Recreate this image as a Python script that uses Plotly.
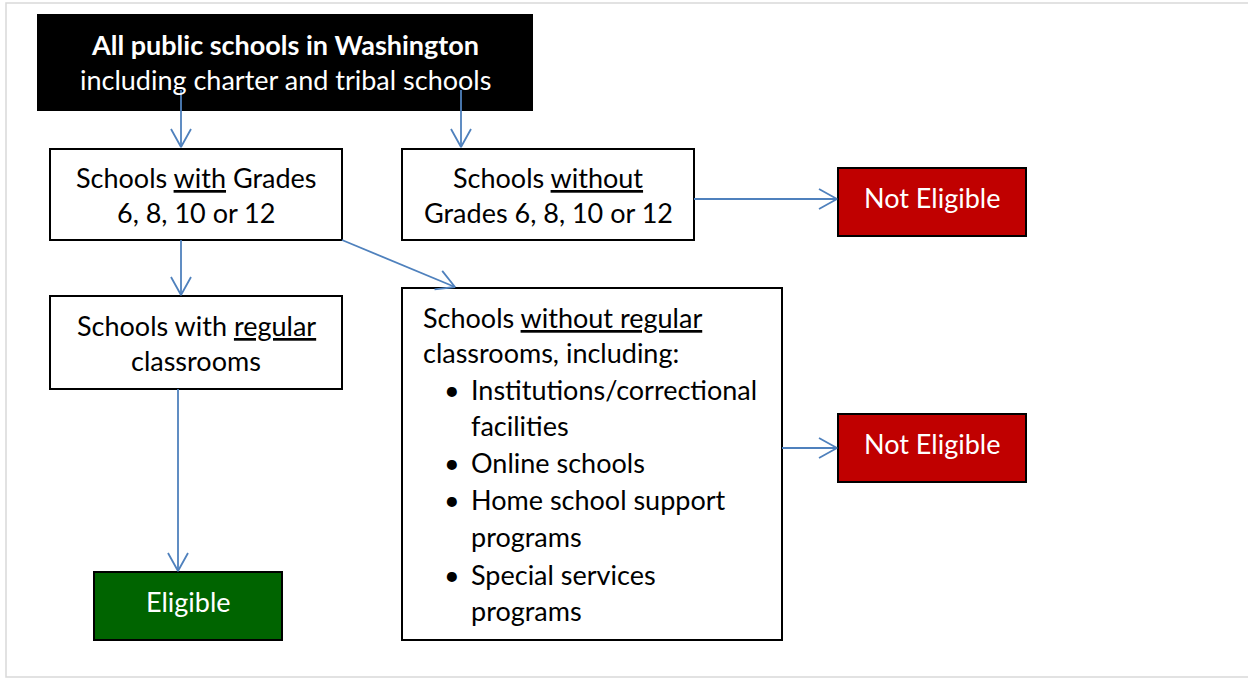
import math
import plotly.graph_objects as go

# ---------------- data ----------------
node_ids = ["root", "with", "without", "ne1", "regular", "noreg", "ne2", "elig"]
node_x0 = [38, 50, 402, 838, 50, 402, 838, 94]
node_x1 = [532, 342, 694, 1026, 342, 782, 1026, 282]
node_y0 = [15, 149, 149, 168, 296, 288, 414, 572]
node_y1 = [110, 240, 240, 236, 389, 640, 482, 640]
node_fill = ["#000000", "#FFFFFF", "#FFFFFF", "#C00000", "#FFFFFF", "#FFFFFF", "#C00000", "#006400"]
node_text_color = ["#FFFFFF", "#000000", "#000000", "#FFFFFF", "#000000", "#000000", "#FFFFFF", "#FFFFFF"]

# centered text lines: (node, text, y)
center_node = ["root", "root", "with", "with", "without", "without", "ne1", "regular", "regular", "ne2", "elig"]
center_text = [
    "<b>All public schools in Washington</b>",
    "including charter and tribal schools",
    "Schools <u>with</u> Grades",
    "6, 8, 10 or 12",
    "Schools <u>without</u>",
    "Grades 6, 8, 10 or 12",
    "Not Eligible",
    "Schools with <u>regular</u>",
    "classrooms",
    "Not Eligible",
    "Eligible",
]
center_y = [44, 79, 177, 212, 177, 212, 197, 325, 360, 443, 601]

# left-aligned list box
list_lines = [
    "Schools <u>without regular</u>",
    "classrooms, including:",
    "Institutions/correctional",
    "facilities",
    "Online schools",
    "Home school support",
    "programs",
    "Special services",
    "programs",
]
list_bullet = [False, False, True, False, True, True, False, True, False]
list_indent = [False, False, True, True, True, True, True, True, True]
list_y = [317, 352, 389, 425, 462, 499, 536, 574, 610]

# arrows: start (x, y) -> end (x, y)
arrow_x0 = [181, 461, 181, 342, 694, 178, 782]
arrow_y0 = [90, 90, 240, 240, 199, 389, 448]
arrow_x1 = [181, 461, 181, 455, 837, 178, 837]
arrow_y1 = [147, 147, 295, 287, 199, 571, 448]

# ---------------- figure ----------------
W, H = 1248, 679
FONT = "Lato"
FS = 27
ARROW_COLOR = "#4F81BD"

fig = go.Figure()

shapes = []
# outer light border
shapes.append(dict(type="rect", xref="x", yref="y", x0=6, x1=1262, y0=3, y1=677,
                   line=dict(color="#D9D9D9", width=1.5), fillcolor="rgba(0,0,0,0)", layer="below"))

for i in range(len(node_ids)):
    shapes.append(dict(type="rect", xref="x", yref="y",
                       x0=node_x0[i], x1=node_x1[i], y0=node_y0[i], y1=node_y1[i],
                       fillcolor=node_fill[i], line=dict(color="#000000", width=2), layer="below"))

annotations = []
idx = {n: i for i, n in enumerate(node_ids)}
for n, t, y in zip(center_node, center_text, center_y):
    i = idx[n]
    cx = (node_x0[i] + node_x1[i]) / 2
    annotations.append(dict(x=cx, y=y, xref="x", yref="y", text=t, showarrow=False,
                            xanchor="center", yanchor="middle",
                            font=dict(family=FONT, size=FS, color=node_text_color[i])))

li = idx["noreg"]
for t, b, ind, y in zip(list_lines, list_bullet, list_indent, list_y):
    tx = node_x0[li] + (67 if ind else 19)
    annotations.append(dict(x=tx, y=y, xref="x", yref="y", text=t, showarrow=False,
                            xanchor="left", yanchor="middle",
                            font=dict(family=FONT, size=FS, color="#000000")))
    if b:
        annotations.append(dict(x=node_x0[li] + 50, y=y, xref="x", yref="y", text="•",
                                showarrow=False, xanchor="center", yanchor="middle",
                                font=dict(family=FONT, size=FS, color="#000000")))

# arrows as lines with open chevron heads
HEAD_LEN = 18
HEAD_HALF = 10
for x0, y0, x1, y1 in zip(arrow_x0, arrow_y0, arrow_x1, arrow_y1):
    dx, dy = x1 - x0, y1 - y0
    L = math.hypot(dx, dy)
    ux, uy = dx / L, dy / L
    px, py = -uy, ux
    bx, by = x1 - ux * HEAD_LEN, y1 - uy * HEAD_LEN
    xs = [x0, x1, None, bx + px * HEAD_HALF, x1, bx - px * HEAD_HALF]
    ys = [y0, y1, None, by + py * HEAD_HALF, y1, by - py * HEAD_HALF]
    fig.add_trace(go.Scatter(x=xs, y=ys, mode="lines",
                             line=dict(color=ARROW_COLOR, width=1.8),
                             hoverinfo="skip", showlegend=False))

fig.update_layout(
    width=W, height=H,
    margin=dict(l=0, r=0, t=0, b=0),
    paper_bgcolor="#FFFFFF", plot_bgcolor="#FFFFFF",
    xaxis=dict(range=[0, W], visible=False, fixedrange=True),
    yaxis=dict(range=[H, 0], visible=False, fixedrange=True),
    shapes=shapes, annotations=annotations, showlegend=False,
)

fig.write_html(
    "out.html",
    config={"displayModeBar": False},
    post_script="document.body.style.margin='0px';document.body.style.overflow='hidden';",
)
